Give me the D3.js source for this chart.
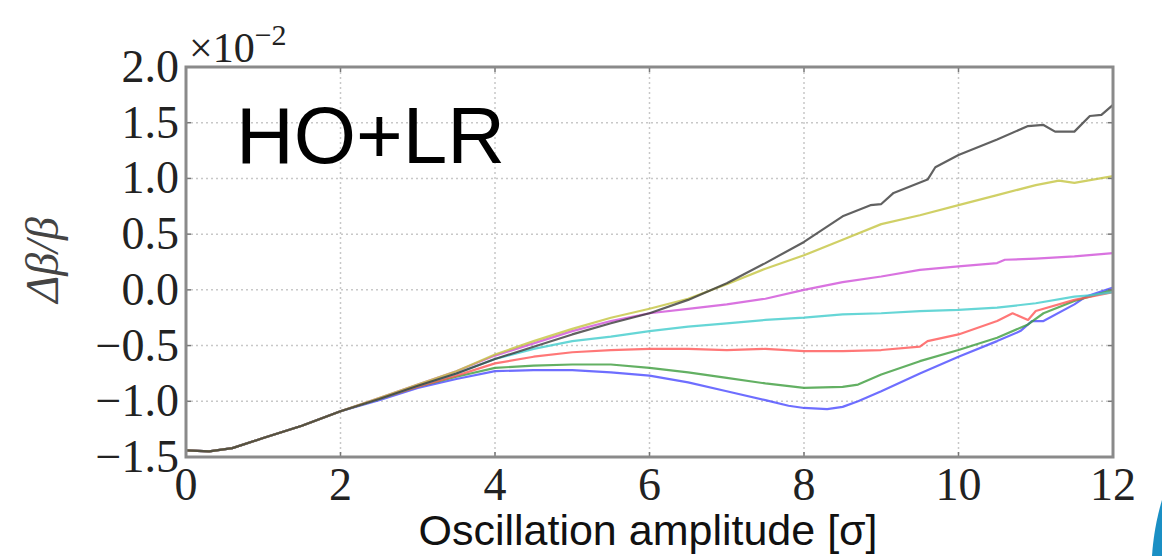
<!DOCTYPE html>
<html>
<head>
<meta charset="utf-8">
<script src="https://cdn.jsdelivr.net/npm/d3@7"></script>
<style>
  body { margin: 0; background: #fff; }
</style>
</head>
<body>
<div id="container"></div>
<script>
// values are in units of 1e-2 as [amplitude, dbeta/beta]
var start = [[0,-1.44],[0.3,-1.45],[0.6,-1.42],[1,-1.33],[1.5,-1.22],[2,-1.09]]

var blueLine = start.concat([[2.5,-0.99],[3,-0.88],[3.5,-0.80],[4,-0.73],[4.5,-0.72],[5,-0.72],[5.5,-0.74],[6,-0.77],[6.5,-0.83],[7,-0.91],[7.5,-0.99],[7.8,-1.04],[8,-1.06],[8.3,-1.07],[8.5,-1.05],[8.7,-1.00],[9,-0.91],[9.5,-0.75],[10,-0.60],[10.5,-0.46],[10.8,-0.37],[10.95,-0.28],[11.1,-0.28],[11.5,-0.13],[11.65,-0.06],[12,0.02]])
var greenLine = start.concat([[2.5,-0.98],[3,-0.87],[3.5,-0.78],[4,-0.70],[4.5,-0.68],[5,-0.67],[5.5,-0.67],[6,-0.70],[6.5,-0.74],[7,-0.79],[7.5,-0.84],[8,-0.88],[8.5,-0.87],[8.7,-0.85],[9,-0.76],[9.5,-0.64],[10,-0.54],[10.5,-0.43],[10.9,-0.31],[11.1,-0.21],[11.5,-0.10],[12,0.0]])
var redLine = start.concat([[2.5,-0.98],[3,-0.87],[3.5,-0.77],[4,-0.66],[4.5,-0.60],[5,-0.56],[5.5,-0.54],[6,-0.53],[6.5,-0.53],[7,-0.54],[7.5,-0.53],[8,-0.55],[8.5,-0.55],[9,-0.54],[9.5,-0.51],[9.6,-0.46],[10,-0.40],[10.5,-0.28],[10.7,-0.21],[10.9,-0.27],[11,-0.19],[11.5,-0.09],[12,-0.02]])
var cyanLine = start.concat([[2.5,-0.98],[3,-0.86],[3.5,-0.75],[4,-0.62],[4.5,-0.53],[5,-0.46],[5.5,-0.42],[6,-0.37],[6.5,-0.33],[7,-0.30],[7.5,-0.27],[8,-0.25],[8.5,-0.22],[9,-0.21],[9.5,-0.19],[10,-0.18],[10.5,-0.16],[11,-0.12],[11.5,-0.06],[11.7,-0.05],[12,-0.02]])
var magentaLine = start.concat([[2.5,-0.97],[3,-0.85],[3.5,-0.73],[4,-0.59],[4.5,-0.48],[5,-0.37],[5.5,-0.28],[6,-0.21],[6.5,-0.17],[7,-0.13],[7.5,-0.08],[8,0.0],[8.5,0.07],[9,0.12],[9.5,0.18],[10,0.21],[10.5,0.24],[10.6,0.27],[11,0.28],[11.5,0.30],[12,0.33]])
var yellowLine = start.concat([[2.5,-0.97],[3,-0.85],[3.5,-0.73],[4,-0.58],[4.5,-0.46],[5,-0.35],[5.5,-0.25],[6,-0.17],[6.5,-0.08],[7,0.05],[7.5,0.19],[8,0.31],[8.5,0.45],[9,0.59],[9.5,0.67],[10,0.76],[10.5,0.85],[11,0.94],[11.3,0.98],[11.5,0.96],[12,1.02]])
var blackLine = start.concat([[2.5,-0.98],[3,-0.86],[3.5,-0.75],[4,-0.62],[4.5,-0.51],[5,-0.40],[5.5,-0.30],[6,-0.21],[6.5,-0.09],[7,0.06],[7.5,0.24],[8,0.43],[8.5,0.66],[8.86,0.76],[9,0.77],[9.16,0.87],[9.6,0.99],[9.7,1.10],[10,1.21],[10.5,1.35],[10.9,1.47],[11.1,1.48],[11.25,1.42],[11.5,1.42],[11.7,1.56],[11.85,1.57],[12,1.66]])

var xTicks = [0, 2, 4, 6, 8, 10, 12]
var yTicks = [-1.5, -1.0, -0.5, 0.0, 0.5, 1.0, 1.5, 2.0]

// set the dimensions and margins of the graph
var margin = {top: 67, right: 49, bottom: 99, left: 186},
    width = 1162 - margin.left - margin.right,
    height = 556 - margin.top - margin.bottom;

var svg0 = d3.select("#container")
  .append("svg")
    .attr("width", 1162)
    .attr("height", 556)
var svg = svg0.append("g")
    .attr("transform", "translate(" + margin.left + "," + margin.top + ")");

var x = d3.scaleLinear().domain([0, 12]).range([0, width])
var y = d3.scaleLinear().domain([-1.5, 2.0]).range([height, 0])

// dotted grid
svg.append("g")
  .selectAll("line")
  .data(xTicks)
  .enter().append("line")
    .attr("x1", function(d){ return x(d) }).attr("x2", function(d){ return x(d) })
    .attr("y1", 0).attr("y2", height)
    .attr("stroke", "#c8c8c8").attr("stroke-width", 1.5).attr("stroke-dasharray", "2,3")
svg.append("g")
  .selectAll("line")
  .data(yTicks)
  .enter().append("line")
    .attr("y1", function(d){ return y(d) }).attr("y2", function(d){ return y(d) })
    .attr("x1", 0).attr("x2", width)
    .attr("stroke", "#c8c8c8").attr("stroke-width", 1.5).attr("stroke-dasharray", "2,3")

// the curves, drawn in matplotlib order so black ends on top
var series = [
  {name: "b", data: blueLine, color: "#4a4aff"},
  {name: "g", data: greenLine, color: "#3c9c3c"},
  {name: "r", data: redLine, color: "#ff5555"},
  {name: "c", data: cyanLine, color: "#40cccc"},
  {name: "m", data: magentaLine, color: "#d050d8"},
  {name: "y", data: yellowLine, color: "#c4c440"},
  {name: "k", data: blackLine, color: "#3a3a3a"}
]
var line = d3.line()
  .x(function(d){ return x(d[0]) })
  .y(function(d){ return y(d[1]) })

svg.append("g")
  .selectAll("path")
  .data(series)
  .enter().append("path")
    .attr("d", function(d){ return line(d.data) })
    .attr("fill", "none")
    .attr("stroke", function(d){ return d.color })
    .attr("stroke-opacity", 0.8)
    .attr("stroke-width", 2.2)
    .attr("stroke-linejoin", "round")

// inward ticks on all four sides
var tickG = svg.append("g").attr("stroke", "#777").attr("stroke-width", 1.5)
xTicks.forEach(function(t){
  tickG.append("line").attr("x1", x(t)).attr("x2", x(t)).attr("y1", height).attr("y2", height - 5)
  tickG.append("line").attr("x1", x(t)).attr("x2", x(t)).attr("y1", 0).attr("y2", 5)
})
yTicks.forEach(function(t){
  tickG.append("line").attr("y1", y(t)).attr("y2", y(t)).attr("x1", 0).attr("x2", 5)
  tickG.append("line").attr("y1", y(t)).attr("y2", y(t)).attr("x1", width).attr("x2", width - 5)
})

// frame
svg.append("rect")
  .attr("width", width)
  .attr("height", height)
  .attr("fill", "none")
  .attr("stroke", "#8a8a8a")
  .attr("stroke-width", 3)

// tick labels
var serif = "'Liberation Serif', 'DejaVu Serif', serif"
svg.append("g")
  .selectAll("text")
  .data(xTicks)
  .enter().append("text")
    .attr("x", function(d){ return x(d) })
    .attr("y", height + 43)
    .attr("text-anchor", "middle")
    .attr("font-family", serif)
    .attr("font-size", 46)
    .attr("fill", "#222")
    .text(function(d){ return d })
svg.append("g")
  .selectAll("text")
  .data(yTicks)
  .enter().append("text")
    .attr("x", -7)
    .attr("y", function(d){ return y(d) + 15 })
    .attr("text-anchor", "end")
    .attr("font-family", serif)
    .attr("font-size", 46)
    .attr("fill", "#222")
    .text(function(d){ return d3.format(".1f")(d).replace("-", "\u2212") })

// offset text above the axis
var offset = svg0.append("text")
  .attr("x", 189)
  .attr("y", 62)
  .attr("font-family", serif)
  .attr("font-size", 42)
  .attr("fill", "#222")
offset.append("tspan").text("\u00d710")
offset.append("tspan").attr("dy", -17).attr("font-size", 30).text("\u22122")

// axis labels
svg0.append("text")
  .attr("transform", "translate(58,260) rotate(-90)")
  .attr("text-anchor", "middle")
  .attr("font-family", serif)
  .attr("font-style", "italic")
  .attr("font-size", 46)
  .attr("fill", "#444")
  .text("\u0394\u03b2/\u03b2")

svg0.append("text")
  .attr("x", 648)
  .attr("y", 545)
  .attr("text-anchor", "middle")
  .attr("font-family", "'Liberation Sans', Arial, sans-serif")
  .attr("font-size", 43)
  .attr("fill", "#111")
  .text("Oscillation amplitude [\u03c3]")

// panel label
svg0.append("text")
  .attr("x", 236)
  .attr("y", 163)
  .attr("font-family", "'Liberation Sans', Arial, sans-serif")
  .attr("font-size", 80)
  .attr("fill", "#000")
  .text("HO+LR")

// bit of slide decoration in the bottom right corner
svg0.append("path")
  .attr("d", "M1162,500 C1156,520 1153,540 1152,556 L1162,556 Z")
  .attr("fill", "#1a8fc4")
</script>
</body>
</html>
